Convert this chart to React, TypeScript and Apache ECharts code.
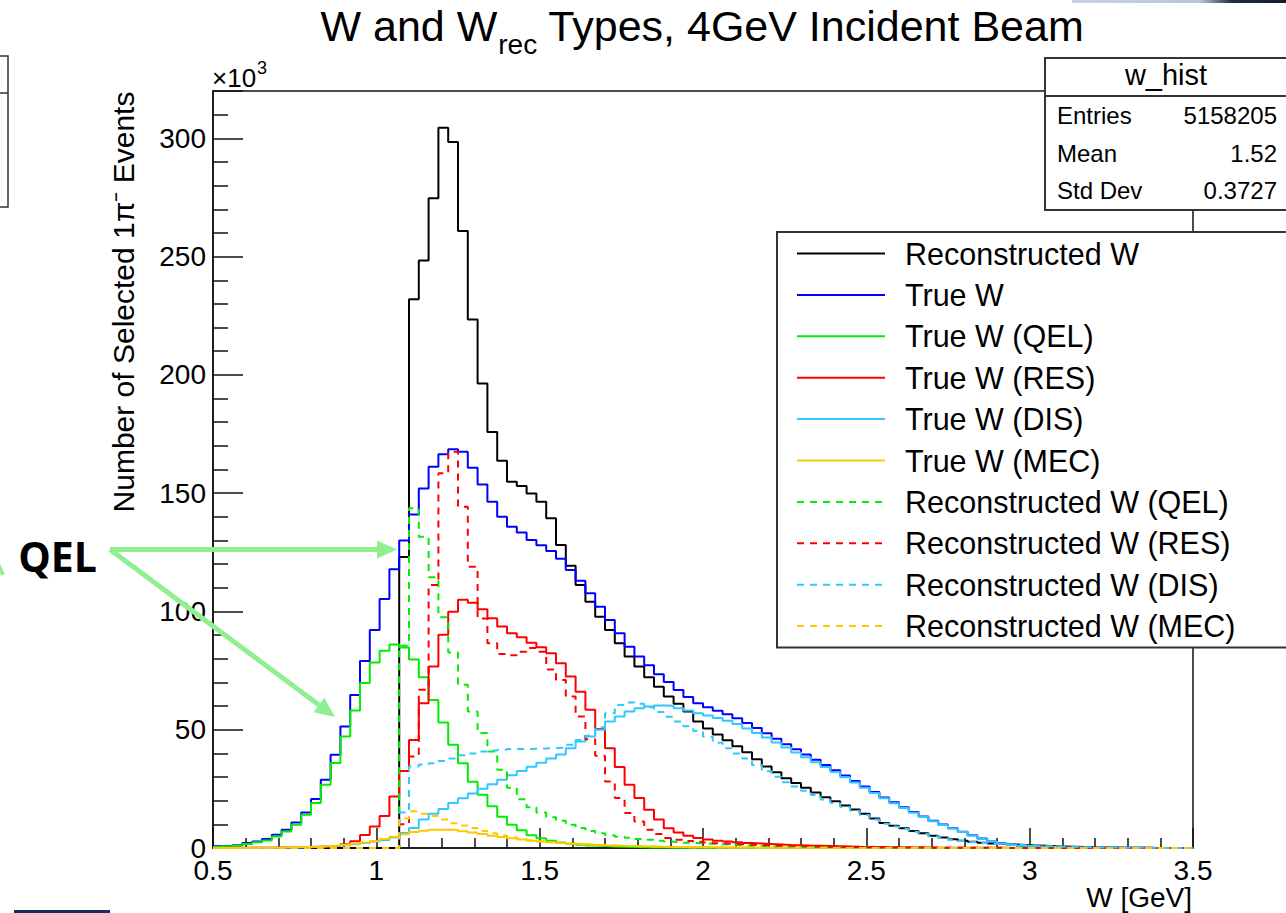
import React, { useEffect, useRef } from "react";
import * as echarts from "echarts";

const FONT = '"Liberation Sans", Arial, Helvetica, sans-serif';

// Histogram binning (GeV)
const W_MIN = 0.5;
const W_MAX = 3.5;
const BIN_WIDTH = 0.03;
const Y_MAX = 320; // in units of 10^3

// Bin contents (x10^3 events), 100 bins from 0.5 to 3.5 GeV
const recoW = [
  0, 0, 0, 0, 0, 0, 0, 0, 0, 0,
  0, 0, 0, 0, 0, 0, 0, 0, 0, 123,
  232, 248.4, 274.7, 304.5, 298.4, 260.8, 223.4, 196.4, 175.9, 163.7,
  154.8, 153, 149.9, 146.4, 139.4, 128.1, 119.3, 111.2, 104.1, 97.8,
  92.2, 86.6, 80.9, 76.7, 72.2, 68.2, 64, 61, 57.7, 53.5,
  50.5, 48, 45.5, 43, 40.5, 37.5, 34.5, 32, 29.5, 27.5,
  25.5, 23.5, 21.5, 19.8, 18, 16.3, 14.5, 12.5, 10.6, 9.4,
  8.3, 7.2, 6.2, 5.2, 4.4, 3.7, 3.1, 2.6, 2.2, 1.9,
  1.7, 1.5, 1.3, 1.1, 0.9, 0.7, 0.6, 0.5, 0.4, 0.3,
  0.25, 0.2, 0.15, 0.1, 0.08, 0.06, 0.05, 0.04, 0.03, 0.02,
];

const trueW = [
  0.7, 0.9, 1.2, 2.1, 2.8, 3.8, 5.6, 7.7, 10.8, 15,
  20.7, 28.8, 39.4, 51.4, 64.7, 79.1, 92.2, 105.3, 117.8, 130,
  141, 152, 161.2, 166.4, 168.6, 167.5, 160.7, 153.7, 146.4, 140,
  135.8, 133.4, 130.2, 128, 125.5, 122.3, 117.5, 113, 107.7, 102,
  96.4, 90.8, 85.1, 81, 77.2, 73.5, 70.2, 66.8, 63.8, 61.2,
  59.5, 58, 56.5, 54.8, 52.8, 50.7, 48.5, 46.2, 43.9, 41.7,
  39.5, 37.3, 35.1, 32.9, 30.6, 28.3, 26, 23.7, 21.4, 19.3,
  17.2, 15.2, 13.3, 11.5, 9.9, 8.4, 6.9, 5.4, 4, 2.8,
  1.9, 1.3, 0.95, 0.75, 0.56, 0.43, 0.33, 0.26, 0.2, 0.16,
  0.13, 0.11, 0.09, 0.07, 0.06, 0.05, 0.04, 0.03, 0.02, 0.01,
];

const trueQEL = [
  0.4, 0.7, 1.1, 1.7, 2.4, 3.2, 4.9, 7, 9.8, 14.1,
  19, 26.7, 35.9, 47.1, 58.1, 69.7, 78.4, 83.4, 86, 84.8,
  79.7, 72.2, 62.6, 53, 43.6, 35.8, 28, 22.5, 17.6, 13.2,
  9.8, 7.5, 5.4, 4.1, 3.1, 2.3, 1.8, 1.4, 1.1, 0.85,
  0.65, 0.5, 0.4, 0.3, 0.25, 0.2, 0.15, 0.12, 0.1, 0.08,
  0.07, 0.06, 0.05, 0.04, 0.03, 0.03, 0.02, 0.02, 0.01, 0.01,
  0, 0, 0, 0, 0, 0, 0, 0, 0, 0,
  0, 0, 0, 0, 0, 0, 0, 0, 0, 0,
  0, 0, 0, 0, 0, 0, 0, 0, 0, 0,
  0, 0, 0, 0, 0, 0, 0, 0, 0, 0,
];

const trueRES = [
  0.05, 0.06, 0.08, 0.1, 0.12, 0.15, 0.2, 0.25, 0.3, 0.4,
  0.55, 0.7, 0.9, 1.6, 2.9, 5.5, 9.1, 13.5, 21.8, 32.6,
  45.7, 61.2, 76.7, 90.1, 99.9, 104.9, 103.7, 100.9, 97.1, 93.6,
  90.8, 89.1, 86.8, 84.9, 82.3, 78.1, 72.5, 66.1, 58.4, 50.3,
  42.2, 34.2, 26.7, 21.1, 16.2, 12, 8.4, 6.6, 5.2, 4.2,
  3.6, 3.1, 2.7, 2.4, 2.1, 1.9, 1.7, 1.5, 1.3, 1.2,
  1, 0.9, 0.8, 0.7, 0.6, 0.5, 0.45, 0.4, 0.35, 0.3,
  0.25, 0.22, 0.2, 0.17, 0.15, 0.13, 0.11, 0.1, 0.08, 0.07,
  0.06, 0.05, 0.04, 0.04, 0.03, 0.03, 0.02, 0.02, 0.02, 0.01,
  0.01, 0.01, 0.01, 0, 0, 0, 0, 0, 0, 0,
];

const trueDIS = [
  0.02, 0.03, 0.04, 0.05, 0.07, 0.1, 0.13, 0.18, 0.25, 0.35,
  0.5, 0.7, 0.9, 1.2, 1.6, 2.1, 2.7, 3.4, 4.4, 6.3,
  8.5, 12, 14.5, 16.5, 19, 21, 23, 25, 27, 28.8,
  30.8, 32.6, 34.3, 36, 37.8, 39.5, 42.2, 45, 47.1, 50,
  53.5, 55.6, 57.7, 59.1, 59.8, 60.2, 60.1, 59.1, 58.1, 57,
  56, 55, 53.8, 52.4, 50.5, 48.6, 46.7, 44.6, 42.5, 40.4,
  38.4, 36.3, 34.2, 32.1, 29.9, 27.7, 25.5, 23.2, 21, 18.9,
  16.9, 14.9, 13.1, 11.3, 9.7, 8.2, 6.8, 5.3, 3.9, 2.7,
  1.8, 1.25, 0.9, 0.7, 0.52, 0.4, 0.3, 0.24, 0.19, 0.15,
  0.12, 0.1, 0.08, 0.07, 0.06, 0.05, 0.04, 0.03, 0.02, 0.01,
];

const trueMEC = [
  0.02, 0.03, 0.05, 0.07, 0.1, 0.14, 0.2, 0.28, 0.38, 0.5,
  0.65, 0.85, 1.1, 1.4, 1.8, 2.3, 2.9, 3.8, 4.8, 5.8,
  6.8, 7.3, 7.7, 7.8, 7.6, 7.1, 6.6, 5.9, 5.2, 4.6,
  4.1, 3.6, 3.1, 2.7, 2.4, 2.1, 1.8, 1.6, 1.4, 1.2,
  1.05, 0.9, 0.8, 0.7, 0.6, 0.5, 0.45, 0.4, 0.35, 0.3,
  0.27, 0.24, 0.21, 0.18, 0.16, 0.14, 0.12, 0.1, 0.09, 0.08,
  0.07, 0.06, 0.05, 0.05, 0.04, 0.04, 0.03, 0.03, 0.02, 0.02,
  0.02, 0.01, 0.01, 0.01, 0, 0, 0, 0, 0, 0,
  0, 0, 0, 0, 0, 0, 0, 0, 0, 0,
  0, 0, 0, 0, 0, 0, 0, 0, 0, 0,
];

const recoQEL = [
  0, 0, 0, 0, 0, 0, 0, 0, 0, 0,
  0, 0, 0, 0, 0, 0, 0, 0, 0, 85.5,
  143.6, 131.6, 114.5, 97.5, 82.6, 69, 57.7, 48.6, 40.8, 33.1,
  25.5, 20.6, 17.2, 15, 13, 11.5, 9.8, 8.5, 7.2, 6.2,
  5.4, 4.8, 4.3, 3.8, 3.5, 3.1, 2.8, 2.5, 2.2, 2,
  1.8, 1.6, 1.4, 1.2, 1, 0.9, 0.8, 0.7, 0.6, 0.5,
  0.45, 0.4, 0.35, 0.3, 0.25, 0.2, 0.18, 0.15, 0.12, 0.1,
  0.08, 0.07, 0.06, 0.05, 0.04, 0.03, 0.03, 0.02, 0.02, 0.01,
  0.01, 0, 0, 0, 0, 0, 0, 0, 0, 0,
  0, 0, 0, 0, 0, 0, 0, 0, 0, 0,
];

const recoRES = [
  0, 0, 0, 0, 0, 0, 0, 0, 0, 0,
  0, 0, 0, 0, 0, 0, 0, 0, 0, 10,
  38.7, 66.9, 111.2, 158.4, 167.5, 144.3, 118.9, 97, 86.5, 82,
  81.5, 83, 84.5, 83, 75.5, 71, 64, 55.6, 46, 39,
  28.1, 21.1, 14.8, 11.2, 7.7, 5.9, 4.2, 3.5, 3, 2.6,
  2.3, 2, 1.8, 1.6, 1.4, 1.25, 1.1, 1, 0.9, 0.8,
  0.7, 0.6, 0.55, 0.5, 0.45, 0.4, 0.35, 0.3, 0.27, 0.24,
  0.2, 0.18, 0.16, 0.14, 0.12, 0.1, 0.09, 0.08, 0.07, 0.06,
  0.05, 0.04, 0.04, 0.03, 0.03, 0.02, 0.02, 0.02, 0.01, 0.01,
  0.01, 0, 0, 0, 0, 0, 0, 0, 0, 0,
];

const recoDIS = [
  0, 0, 0, 0, 0, 0, 0, 0, 0, 0,
  0, 0, 0, 0, 0, 0, 0, 0, 0, 15,
  34.5, 35.3, 35.8, 36.8, 37.8, 39.2, 40, 40.8, 41.2, 41.5,
  41.8, 41.8, 42, 42.1, 42.2, 42.4, 43.6, 45.7, 47.5, 51,
  57, 60.5, 61.5, 61, 59.5, 57.5, 55.5, 53.5, 51.5, 49.5,
  47, 44.5, 42.2, 40, 37.8, 35.1, 32.4, 30.1, 27.8, 26,
  24.2, 22.4, 20.5, 19, 17.3, 15.7, 14, 12, 10.2, 9.05,
  8, 6.9, 5.95, 5, 4.2, 3.5, 3, 2.5, 2.1, 1.8,
  1.6, 1.4, 1.2, 1, 0.85, 0.68, 0.58, 0.48, 0.38, 0.29,
  0.24, 0.19, 0.14, 0.1, 0.08, 0.06, 0.05, 0.04, 0.03, 0.02,
];

const recoMEC = [
  0, 0, 0, 0, 0, 0, 0, 0, 0, 0,
  0, 0, 0, 0, 0, 0, 0, 0, 0, 12.5,
  15.5, 14.5, 13.5, 12, 10.5, 9.5, 8.5, 7.2, 6.2, 5.3,
  4.5, 3.8, 3.3, 2.9, 2.5, 2.1, 1.8, 1.6, 1.4, 1.2,
  1.05, 0.9, 0.8, 0.7, 0.6, 0.5, 0.45, 0.4, 0.35, 0.3,
  0.27, 0.24, 0.21, 0.18, 0.16, 0.14, 0.12, 0.1, 0.09, 0.08,
  0.07, 0.06, 0.05, 0.05, 0.04, 0.04, 0.03, 0.03, 0.02, 0.02,
  0.02, 0.01, 0.01, 0.01, 0, 0, 0, 0, 0, 0,
  0, 0, 0, 0, 0, 0, 0, 0, 0, 0,
  0, 0, 0, 0, 0, 0, 0, 0, 0, 0,
];

const SERIES_DEFS = [
  { name: "Reconstructed W", values: recoW, color: "#000000", dashed: false },
  { name: "True W", values: trueW, color: "#0000ff", dashed: false },
  { name: "True W (QEL)", values: trueQEL, color: "#00ee00", dashed: false },
  { name: "True W (RES)", values: trueRES, color: "#ff0000", dashed: false },
  { name: "True W (DIS)", values: trueDIS, color: "#30c8ff", dashed: false },
  { name: "True W (MEC)", values: trueMEC, color: "#ffc800", dashed: false },
  { name: "Reconstructed W (QEL)", values: recoQEL, color: "#00ee00", dashed: true },
  { name: "Reconstructed W (RES)", values: recoRES, color: "#ff0000", dashed: true },
  { name: "Reconstructed W (DIS)", values: recoDIS, color: "#30c8ff", dashed: true },
  { name: "Reconstructed W (MEC)", values: recoMEC, color: "#ffc800", dashed: true },
];

const STATS_TITLE = "w_hist";
const STATS_ROWS = [
  ["Entries", "5158205"],
  ["Mean", "1.52"],
  ["Std Dev", "0.3727"],
];

const TITLE_MAIN = "W and W";
const TITLE_SUB = "rec";
const TITLE_REST = " Types, 4GeV Incident Beam";
const Y_TITLE = "Number of Selected 1\u03c0\u207b Events";
const X_TITLE = "W [GeV]";
const Y_EXP_BASE = "\u00d710";
const Y_EXP_POWER = "3";
const ANNOTATION = "QEL";

const DASH = [7, 6];

function histData(values: number[]) {
  const pts = values.map((v, i) => [W_MIN + i * BIN_WIDTH, v]);
  pts.push([W_MAX, values[values.length - 1]]);
  return pts;
}

function measure(text: string, size: number, weight = "normal", family = FONT) {
  const ctx = document.createElement("canvas").getContext("2d");
  if (!ctx) return text.length * size * 0.5;
  ctx.font = `${weight} ${size}px ${family}`;
  return ctx.measureText(text).width;
}

export default function App() {
  const ref = useRef<HTMLDivElement>(null);

  useEffect(() => {
    if (!ref.current) return;
    const chart = echarts.init(ref.current, undefined, { renderer: "svg" });

    const Z = 20;
    const graphics: any[] = [];

    // Title with subscript
    const tSize = 43;
    const sSize = 28;
    const w1 = measure(TITLE_MAIN, tSize);
    const w2 = measure(TITLE_SUB, sSize);
    const w3 = measure(TITLE_REST, tSize);
    const tStart = 702 - (w1 + w2 + w3) / 2;
    graphics.push(
      { type: "text", x: tStart, y: 26, z: Z, style: { text: TITLE_MAIN, font: `${tSize}px ${FONT}`, fill: "#000", align: "left", verticalAlign: "middle" } },
      { type: "text", x: tStart + w1 + 1, y: 44, z: Z, style: { text: TITLE_SUB, font: `${sSize}px ${FONT}`, fill: "#000", align: "left", verticalAlign: "middle" } },
      { type: "text", x: tStart + w1 + w2 + 1, y: 26, z: Z, style: { text: TITLE_REST, font: `${tSize}px ${FONT}`, fill: "#000", align: "left", verticalAlign: "middle" } }
    );

    // Axis titles and exponent
    const wExp = measure(Y_EXP_BASE, 26);
    graphics.push(
      { type: "text", x: 212, y: 78, z: Z, style: { text: Y_EXP_BASE, font: `26px ${FONT}`, fill: "#000", align: "left", verticalAlign: "middle" } },
      { type: "text", x: 212 + wExp + 1, y: 68, z: Z, style: { text: Y_EXP_POWER, font: `18px ${FONT}`, fill: "#000", align: "left", verticalAlign: "middle" } },
      { type: "text", x: 123, y: 302, rotation: Math.PI / 2, z: Z, style: { text: Y_TITLE, font: `30px ${FONT}`, fill: "#000", align: "center", verticalAlign: "middle" } },
      { type: "text", x: 1192, y: 897, z: Z, style: { text: X_TITLE, font: `28px ${FONT}`, fill: "#000", align: "right", verticalAlign: "middle" } }
    );

    // Stats box
    graphics.push(
      { type: "rect", z: Z, shape: { x: 1045, y: 58, width: 300, height: 152 }, style: { fill: "#fff", stroke: "#333", lineWidth: 2 } },
      { type: "line", z: Z, shape: { x1: 1045, y1: 96, x2: 1290, y2: 96 }, style: { stroke: "#333", lineWidth: 2 } },
      { type: "text", x: 1166, y: 75, z: Z, style: { text: STATS_TITLE, font: `29px ${FONT}`, fill: "#000", align: "center", verticalAlign: "middle" } }
    );
    STATS_ROWS.forEach((row, i) => {
      const y = 115.5 + i * 37.5;
      graphics.push(
        { type: "text", x: 1057, y, z: Z, style: { text: row[0], font: `24px ${FONT}`, fill: "#000", align: "left", verticalAlign: "middle" } },
        { type: "text", x: 1277, y, z: Z, style: { text: row[1], font: `24px ${FONT}`, fill: "#000", align: "right", verticalAlign: "middle" } }
      );
    });

    // Legend box
    graphics.push({ type: "rect", z: Z, shape: { x: 777, y: 232, width: 600, height: 415.5 }, style: { fill: "#fff", stroke: "#333", lineWidth: 2 } });
    SERIES_DEFS.forEach((s, i) => {
      const y = 253.5 + i * 41.4;
      graphics.push(
        { type: "line", z: Z, shape: { x1: 797, y1: y, x2: 885, y2: y }, style: { stroke: s.color, lineWidth: 2, lineDash: s.dashed ? DASH : null } },
        { type: "text", x: 905, y, z: Z, style: { text: s.name, font: `30.5px ${FONT}`, fill: "#000", align: "left", verticalAlign: "middle" } }
      );
    });

    // Annotation: QEL with arrows
    const ARROW = "#90f090";
    const tipA = [397, 549.5];
    const tipB = [335, 717];
    const start = [110, 549.5];
    const arrowHead = (tip: number[]) => {
      const dx = tip[0] - start[0];
      const dy = tip[1] - start[1];
      const len = Math.sqrt(dx * dx + dy * dy);
      const ux = dx / len, uy = dy / len;
      const hl = 20, hw = 9;
      const bx = tip[0] - ux * hl, by = tip[1] - uy * hl;
      return {
        base: [bx, by],
        pts: [[tip[0], tip[1]], [bx - uy * hw, by + ux * hw], [bx + uy * hw, by - ux * hw]],
      };
    };
    const hA = arrowHead(tipA);
    const hB = arrowHead(tipB);
    graphics.push(
      { type: "line", z: Z + 1, shape: { x1: start[0], y1: start[1], x2: hA.base[0], y2: hA.base[1] }, style: { stroke: ARROW, lineWidth: 5 } },
      { type: "polygon", z: Z + 1, shape: { points: hA.pts }, style: { fill: ARROW } },
      { type: "line", z: Z + 1, shape: { x1: start[0], y1: start[1], x2: hB.base[0], y2: hB.base[1] }, style: { stroke: ARROW, lineWidth: 5 } },
      { type: "polygon", z: Z + 1, shape: { points: hB.pts }, style: { fill: ARROW } },
      { type: "line", z: Z + 1, shape: { x1: -2, y1: 564, x2: 3, y2: 575 }, style: { stroke: ARROW, lineWidth: 4 } },
      { type: "text", x: 97, y: 556, z: Z + 1, style: { text: ANNOTATION, font: `bold 41px "Open Sans", ${FONT}`, fill: "#000", align: "right", verticalAlign: "middle" } }
    );

    // Decorations from the slide
    graphics.push(
      { type: "rect", z: Z, shape: { x: -10, y: 56, width: 18, height: 151 }, style: { fill: "#fff", stroke: "#333", lineWidth: 1.5 } },
      { type: "line", z: Z, shape: { x1: 0, y1: 93, x2: 8, y2: 93 }, style: { stroke: "#333", lineWidth: 1.5 } },
      { type: "rect", z: Z, shape: { x: 14, y: 910, width: 96, height: 3 }, style: { fill: "#1c2a5c" } },
      {
        type: "rect", z: Z, shape: { x: 1072, y: 0, width: 214, height: 3 },
        style: {
          fill: new echarts.graphic.LinearGradient(0, 0, 1, 0, [
            { offset: 0, color: "#c9d3e2" },
            { offset: 0.6, color: "#b8c4d6" },
            { offset: 0.75, color: "#1e2a46" },
            { offset: 1, color: "#141c33" },
          ]),
        },
      }
    );

    const series = SERIES_DEFS.map((s) => ({
      name: s.name,
      type: "line",
      step: "end",
      data: histData(s.values),
      showSymbol: false,
      symbol: "none",
      clip: true,
      lineStyle: { color: s.color, width: 2, type: s.dashed ? DASH : "solid" },
      itemStyle: { color: s.color },
      emphasis: { disabled: true },
    }));

    chart.setOption({
      animation: false,
      backgroundColor: "#ffffff",
      textStyle: { fontFamily: FONT },
      grid: { left: 213, right: 93, top: 91, bottom: 65, show: true, borderColor: "#111", borderWidth: 1.5, containLabel: false },
      xAxis: {
        type: "value",
        min: W_MIN,
        max: W_MAX,
        interval: 0.5,
        axisLine: { show: true, onZero: false, lineStyle: { color: "#111", width: 1.5 } },
        axisTick: { show: true, inside: true, length: 20, lineStyle: { color: "#111", width: 1.5 } },
        minorTick: { show: true, splitNumber: 5, length: 10, lineStyle: { color: "#111", width: 1.5 } },
        splitLine: { show: false },
        axisLabel: { color: "#000", fontSize: 28, fontFamily: FONT, margin: 8 },
      },
      yAxis: {
        type: "value",
        min: 0,
        max: Y_MAX,
        interval: 50,
        axisLine: { show: true, onZero: false, lineStyle: { color: "#111", width: 1.5 } },
        axisTick: { show: true, inside: true, length: 30, lineStyle: { color: "#111", width: 1.5 } },
        minorTick: { show: true, splitNumber: 5, length: 15, lineStyle: { color: "#111", width: 1.5 } },
        splitLine: { show: false },
        axisLabel: { color: "#000", fontSize: 28, fontFamily: FONT, margin: 7, showMaxLabel: false },
      },
      series,
      graphic: { elements: graphics },
    });

    return () => chart.dispose();
  }, []);

  return (
    <div
      ref={ref}
      style={{ position: "absolute", left: 0, top: 0, width: 1286, height: 913, background: "#fff" }}
    />
  );
}
